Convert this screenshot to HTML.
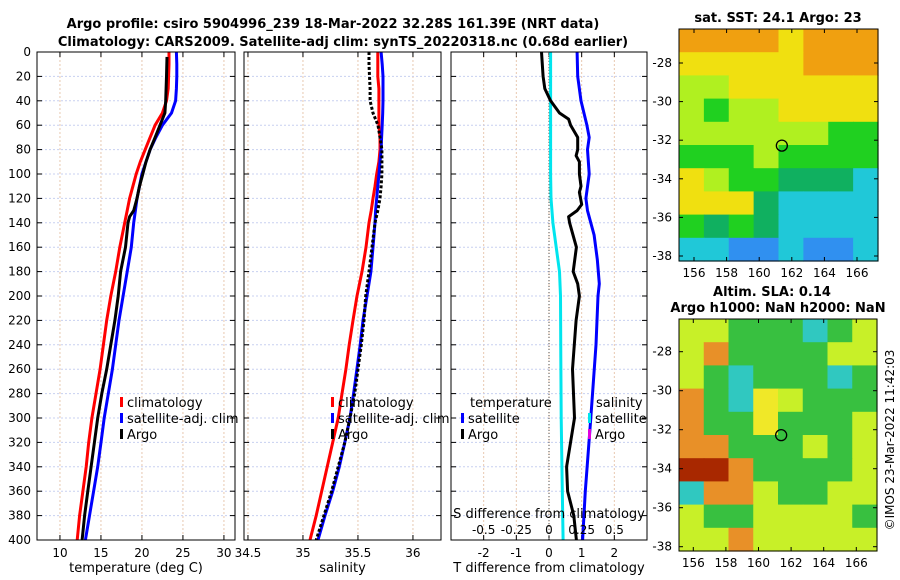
<!DOCTYPE html>
<html><head><meta charset="utf-8">
<style>
body{margin:0;background:#fff;}
svg{display:block;font-family:"DejaVu Sans","Liberation Sans",sans-serif;}
</style></head><body>
<svg id="c" width="900" height="580" viewBox="0 0 900 580" xmlns="http://www.w3.org/2000/svg">
<text x="333" y="28" text-anchor="middle" font-size="13" font-weight="bold">Argo profile: csiro 5904996_239 18-Mar-2022 32.28S 161.39E (NRT data)</text>
<text x="343" y="46" text-anchor="middle" font-size="13" font-weight="bold">Climatology: CARS2009. Satellite-adj clim: synTS_20220318.nc (0.68d earlier)</text>
<text x="778" y="22" text-anchor="middle" font-size="13" font-weight="bold">sat. SST: 24.1 Argo: 23</text>
<text x="772" y="296" text-anchor="middle" font-size="13" font-weight="bold">Altim. SLA: 0.14</text>
<text x="778" y="312" text-anchor="middle" font-size="13" font-weight="bold">Argo h1000: NaN h2000: NaN</text>
<text transform="translate(894,440) rotate(-90)" text-anchor="middle" font-size="12">©IMOS 23-Mar-2022 11:42:03</text>
</svg>
<script>
// ---- data ----
const depths=[0,10,20,30,40,50,60,70,80,90,100,110,120,130,140,160,180,200,220,240,260,280,300,320,340,360,380,400];
const climT=[23.3,23.3,23.25,23.2,23.0,22.5,21.6,21.0,20.4,19.8,19.3,18.9,18.5,18.2,17.9,17.3,16.8,16.2,15.7,15.3,14.9,14.4,13.9,13.5,13.2,12.8,12.4,12.1];
const satT=[24.2,24.25,24.25,24.2,24.1,23.6,22.5,21.7,21.0,20.5,20.0,19.7,19.4,19.2,19.0,18.7,18.2,17.7,17.2,16.8,16.4,15.9,15.4,15.0,14.6,14.1,13.6,13.1];
const argoDepths=[4,20,40,50,60,70,80,90,100,110,120,130,135,140,160,180,200,220,240,260,280,300,320,340,360,380,400];
const argoT=[23.05,23.0,22.9,22.8,22.2,21.6,21.0,20.5,20.1,19.7,19.4,19.0,18.5,18.3,18.0,17.4,17.1,16.7,16.2,15.7,15.1,14.6,14.2,13.8,13.4,13.0,12.7];
const climS=[35.68,35.68,35.68,35.69,35.69,35.69,35.69,35.70,35.70,35.69,35.67,35.655,35.637,35.62,35.60,35.573,35.537,35.491,35.455,35.42,35.39,35.355,35.32,35.27,35.22,35.17,35.12,35.064];
const satS=[35.71,35.72,35.728,35.728,35.728,35.725,35.72,35.715,35.71,35.70,35.691,35.68,35.67,35.66,35.655,35.637,35.618,35.582,35.546,35.52,35.49,35.46,35.428,35.38,35.33,35.27,35.20,35.137];
const argoS=[35.6,35.6,35.605,35.61,35.61,35.637,35.682,35.70,35.718,35.718,35.718,35.71,35.70,35.68,35.655,35.628,35.60,35.57,35.555,35.53,35.50,35.47,35.428,35.38,35.32,35.26,35.19,35.12];
const diffDepths=[0,20,30,40,50,55,60,70,80,85,90,100,110,115,125,130,135,140,160,180,190,200,220,260,300,340,360,380,400];
const argoDT=[-0.23,-0.18,-0.13,0.05,0.32,0.6,0.66,0.88,0.88,0.83,0.93,0.93,0.98,0.93,1.0,0.86,0.6,0.63,0.84,0.74,0.88,0.93,0.83,0.72,0.78,0.54,0.57,0.76,0.84];
const satDDepths=[0,20,40,60,70,80,100,120,130,150,170,190,200,240,300,360,400];
const satDT=[0.86,0.88,0.98,1.16,1.23,1.18,1.23,1.13,1.18,1.38,1.48,1.54,1.50,1.44,1.28,1.11,1.03];
const satDSDepths=[0,50,100,120,140,160,180,200,250,300,350,400];
const satDS=[0.012,0.012,0.012,0.015,0.03,0.055,0.08,0.088,0.09,0.093,0.1,0.108];
const tTicks=[10,15,20,25,30];
const sTicks=[34.5,35,35.5,36];
const dTTicks=[-2,-1,0,1,2];
const dSTickLabels=["-0.5","-0.25","0","0.25","0.5"];
const dSTicks=[-0.5,-0.25,0,0.25,0.5];
const depthTicks=[0,20,40,60,80,100,120,140,160,180,200,220,240,260,280,300,320,340,360,380,400];
const sstGrid=["OOOOYOOO","YYYYYOOO","LLYYYYYY","LGLLYYYY","LLLLLLGG","GGGLGGGG","YLGGDDDC","YYYDCCCC","GDGDCCCC","CCBBCBBC"];
const slaGrid=["llgggcgl","lognggll","lgcgggcg","ogcylggg","oggygggl","ooggglgl","RRoggggl","coolggll","lggllllg","llolllll"];
const latTicks=[-28,-30,-32,-34,-36,-38];
const lonTicks=[156,158,160,162,164,166];
const floatLon=161.39, floatLat=-32.28;

const NS='http://www.w3.org/2000/svg';
const svg=document.getElementById('c');
function mk(tag,attrs,parent){const e=document.createElementNS(NS,tag);for(const k in attrs)e.setAttribute(k,attrs[k]);(parent||svg).appendChild(e);return e;}
function txt(x,y,s,size,anchor,parent){const t=mk('text',{x:x,y:y,'font-size':size,'text-anchor':anchor||'middle'},parent);t.textContent=s;return t;}

const Y0=52,Y1=540;
const yD=d=>Y0+d/400*(Y1-Y0);

function panel(name,x0,x1,xmin,xmax,ticks,tickLabels,xlabel,showY){
  const g=mk('g',{});
  
  
  const xs=v=>x0+(v-xmin)/(xmax-xmin)*(x1-x0);
  ticks.forEach(t=>{const X=xs(t);mk('line',{x1:X,x2:X,y1:Y0,y2:Y1,stroke:'#e8c8b0','stroke-dasharray':'2,2','stroke-width':1},g);
    mk('line',{x1:X,x2:X,y1:Y1,y2:Y1-5,stroke:'#000'},g);mk('line',{x1:X,x2:X,y1:Y0,y2:Y0+5,stroke:'#000'},g);});
  depthTicks.forEach(d=>{const Y=yD(d);mk('line',{x1:x0,x2:x1,y1:Y,y2:Y,stroke:'#c8d0f0','stroke-dasharray':'2,2','stroke-width':1},g);
    mk('line',{x1:x0,x2:x0+5,y1:Y,y2:Y,stroke:'#000'},g);mk('line',{x1:x1,x2:x1-5,y1:Y,y2:Y,stroke:'#000'},g);
    if(showY){const t=txt(x0-6,Y+4,String(d),12,'end',g);}});
  ticks.forEach((t,i)=>{const l=txt(xs(t),557,tickLabels[i],12,'middle',g);});
  const xl=txt((x0+x1)/2,572,xlabel,13,'middle',g);
  
  
  return {g,xs,x0,x1};
}
function line(p,xsArr,ds,color,name,dash){
  const pts=xsArr.map((v,i)=>p.xs(v).toFixed(1)+','+yD(ds[i]).toFixed(1)).join(' ');
  const e=mk('polyline',{points:pts,fill:'none',stroke:color,'stroke-width':3,'stroke-linejoin':'round'},p.g);
  if(dash)e.setAttribute('stroke-dasharray',dash);
  
  
}
function frame(p){const r=mk('rect',{x:p.x0,y:Y0,width:p.x1-p.x0,height:Y1-Y0,fill:'none',stroke:'#000','stroke-width':1},p.g);}
function legend(p,x,y,items,textX){
  items.forEach((it,i)=>{const Y=y+i*16;
    if(it[1]){const m=mk('rect',{x:x,y:Y-5,width:3,height:10,fill:it[1]},p.g);}
    const t=txt(it[1]?x+7:(textX||x+7),Y+5,it[0],13,'start',p.g);});
}

const p1=panel('temperature-panel',37,235,7.2,31.35,tTicks,tTicks.map(String),'temperature (deg C)',true);
line(p1,climT,depths,'#f00','climatology-temp-line');
line(p1,satT,depths,'#00f','satellite-temp-line');
line(p1,argoT,argoDepths,'#000','argo-temp-line');
frame(p1);
legend(p1,120,402,[['climatology','#f00'],['satellite-adj. clim','#00f'],['Argo','#000']]);

const p2=panel('salinity-panel',244,441,34.464,36.255,sTicks,sTicks.map(String),'salinity',false);
line(p2,climS,depths,'#f00','climatology-salinity-line');
line(p2,satS,depths,'#00f','satellite-salinity-line');
line(p2,argoS,depths,'#000','argo-salinity-line','3,2');
frame(p2);
legend(p2,331,402,[['climatology','#f00'],['satellite-adj. clim','#00f'],['Argo','#000']]);

const p3=panel('difference-panel',451,647,-3,3,dTTicks,dTTicks.map(String),'T difference from climatology',false);
mk('line',{x1:p3.xs(0),x2:p3.xs(0),y1:Y0,y2:Y1,stroke:'#555','stroke-dasharray':'1,2'},p3.g);
line(p3,satDS.map(v=>v*4),satDSDepths,'#00e5ee','satellite-salinity-diff-line');
line(p3,argoDT,diffDepths,'#000','argo-temp-diff-line');
line(p3,satDT,satDDepths,'#00f','satellite-temp-diff-line');
frame(p3);
legend(p3,461,402,[['temperature',null],['satellite','#00f'],['Argo','#000']],470);
legend(p3,588,402,[['salinity',null],['satellite','#00e5ee'],['Argo','#e000e0']],596);
const sdT=txt(549,518,'S difference from climatology',13,'middle',p3.g);


dSTicks.forEach((v,i)=>{const t=txt(p3.xs(v*4),534,dSTickLabels[i],12,'middle',p3.g);});

// maps
const colors={O:'#f0a010',Y:'#f0e010',L:'#b0f020',G:'#20d020',D:'#10b060',C:'#20c8d8',B:'#3090f0',R:'#a82800',o:'#e89028',y:'#f0e828',l:'#c8f028',g:'#38c040',c:'#30c8c0',n:'#38c040'};
function map(name,grid,x0,y0,w,h,latY28,pxLat,lonX156,pxLon){
  const g=mk('g',{});
  
  
  const rows=grid.length,cols=grid[0].length,cw=w/cols,ch=h/rows;
  grid.forEach((row,r)=>{for(let c=0;c<cols;c++){const e=mk('rect',{x:x0+c*cw,y:y0+r*ch,width:cw+0.6,height:ch+0.6,fill:colors[row[c]]||'#c8f028'},g);}});
  mk('rect',{x:x0,y:y0,width:w,height:h,fill:'none',stroke:'#000'},g);
  const ly=lat=>latY28+(-28-lat)*pxLat, lx=lon=>lonX156+(lon-156)*pxLon;
  latTicks.forEach(l=>{const Y=ly(l);mk('line',{x1:x0,x2:x0+4,y1:Y,y2:Y,stroke:'#000'},g);mk('line',{x1:x0+w,x2:x0+w-4,y1:Y,y2:Y,stroke:'#000'},g);
    const t=txt(x0-7,Y+4,String(l),12,'end',g);});
  lonTicks.forEach(l=>{const X=lx(l);mk('line',{x1:X,x2:X,y1:y0+h,y2:y0+h-4,stroke:'#000'},g);mk('line',{x1:X,x2:X,y1:y0,y2:y0+4,stroke:'#000'},g);
    const t=txt(X,y0+h+16,String(l),12,'middle',g);});
  const m=mk('circle',{cx:lx(floatLon),cy:ly(floatLat),r:5.5,fill:'none',stroke:'#000','stroke-width':1.3},g);
  
  
}
map('sst-map',sstGrid,679,29,199,232,63,19.3,694,16.3);
map('sla-map',slaGrid,679,319,198,232,351.7,19.5,693.3,16.3);
</script>
</body></html>
